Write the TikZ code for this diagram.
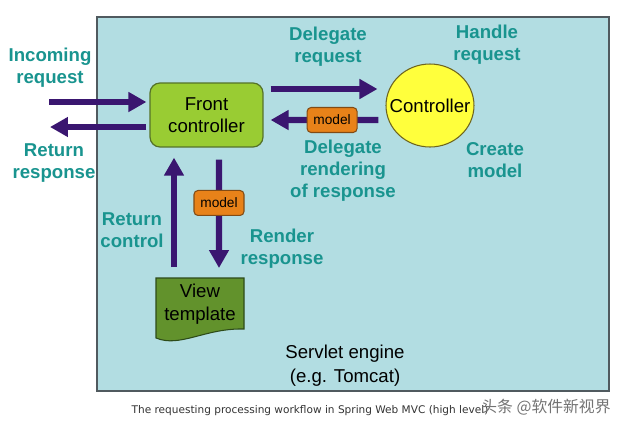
\documentclass[tikz,border=0pt]{standalone}
\usepackage{fontspec}
\setmainfont{Liberation Sans}
\newfontfamily\capfont{DejaVu Sans}
\newfontfamily\cjkfont{Noto Sans CJK SC}
\usetikzlibrary{arrows.meta,calc,shapes.geometric}

\definecolor{enginebg}{RGB}{178,221,226}
\definecolor{engineedge}{RGB}{80,90,95}
\definecolor{flowpurple}{RGB}{58,22,112}
\definecolor{labelteal}{RGB}{25,148,143}
\definecolor{frontgreen}{RGB}{153,204,51}
\definecolor{frontedge}{RGB}{85,115,40}
\definecolor{ctrlyellow}{RGB}{255,255,60}
\definecolor{ctrledge}{RGB}{110,100,30}
\definecolor{modelorange}{RGB}{232,130,25}
\definecolor{modeledge}{RGB}{130,75,20}
\definecolor{viewgreen}{RGB}{98,146,44}
\definecolor{viewedge}{RGB}{45,75,25}

\tikzset{
  flow/.style={line width=3.6pt,draw=flowpurple,-{Triangle[length=0.36cm,width=0.38cm]}},
  lbl/.style={font=\bfseries\fontsize{10.6}{12.6}\selectfont,text=labelteal,align=center,inner sep=0pt},
  plain/.style={font=\fontsize{10.6}{12.6}\selectfont,align=center,inner sep=0pt},
  modelbox/.style={draw=modeledge,fill=modelorange,rounded corners=0.08cm,line width=0.6pt,
    minimum width=1cm,minimum height=0.5cm,inner sep=0pt,font=\fontsize{7.8}{9}\selectfont},
}

\begin{document}
\begin{tikzpicture}[x=0.02cm,y=-0.02cm]
  \useasboundingbox (0,0) rectangle (640,427);

  % servlet engine
  \draw[engineedge,fill=enginebg,line width=0.7pt] (97,17) rectangle (609,391);
  \node[plain,font=\fontsize{10.6}{13.7}\selectfont] (engine) at (345,366) {Servlet engine\\(e.g. Tomcat)};

  % front controller and controller
  \node[draw=frontedge,fill=frontgreen,line width=0.7pt,rounded corners=0.2cm,
    minimum width=2.26cm,minimum height=1.28cm,inner sep=0pt,plain] (front) at (206.5,115) {Front\\controller};
  \node[ellipse,draw=ctrledge,fill=ctrlyellow,line width=0.6pt,
    minimum width=1.76cm,minimum height=1.66cm,inner sep=0pt] (ctrl) at (430,105.5) {};
  \node[plain] (ctrltext) at (ctrl.center) {Controller};

  % view template
  \coordinate (viewtop) at (200,278);
  \draw[viewedge,fill=viewgreen,line width=0.6pt] (156,278) -- (244,278) -- (244,329)
    .. controls (205,328) and (180,348) .. (156,338) -- cycle;
  \node[plain,font=\fontsize{10.6}{13.2}\selectfont] (view) at (200,304) {View\\template};

  % arrows
  \coordinate (inTail) at (49,102);
  \coordinate (outTip) at (50,127);
  \draw[flow] (inTail) -- ($(front.west)+(-3,-13)$);
  \draw[flow] ($(front.west)+(-3,12)$) -- (outTip);
  \draw[flow] ($(front.east)+(7,-26)$) -- ($(ctrl.west)+(-8,-16.5)$);
  \draw[flow] ($(ctrl.west)+(-7,14.5)$) -- node[modelbox,pos=0.43] (model1) {model} ($(front.east)+(7,5)$);
  \draw[flow] ($(viewtop)+(-26,-11)$) -- ($(front.south)+(-32.5,10)$);
  \draw[flow] ($(front.south)+(12.5,12)$) -- node[modelbox,pos=0.4] (model2) {model} ($(viewtop)+(19,-10)$);

  % labels
  \node[lbl] (lblIn) at (50,68) {Incoming\\request};
  \node[lbl] (lblOut) at (54,163) {Return\\response};
  \node[lbl] (lblDeleg) at (328,47) {Delegate\\request};
  \node[lbl] (lblHandle) at (487,45) {Handle\\request};
  \node[lbl] (lblRendDeleg) at (343,171) {Delegate\\rendering\\of response};
  \node[lbl] (lblCreate) at (495,160) {Create\\model};
  \node[lbl] (lblRetCtl) at (132,230) {Return\\control};
  \node[lbl] (lblRender) at (282,249) {Render\\response};

  % caption
  \node[inner sep=0pt,text=black!80,font=\capfont\fontsize{6}{7}\selectfont] (caption) at (310,411)
    {The requesting processing workflow in Spring Web MVC (high level)};
  \node[inner sep=0pt,text=black!55,font=\cjkfont\fontsize{9}{11}\selectfont] (mark) at (546,407)
    {头条 @软件新视界};
\end{tikzpicture}
\end{document}
